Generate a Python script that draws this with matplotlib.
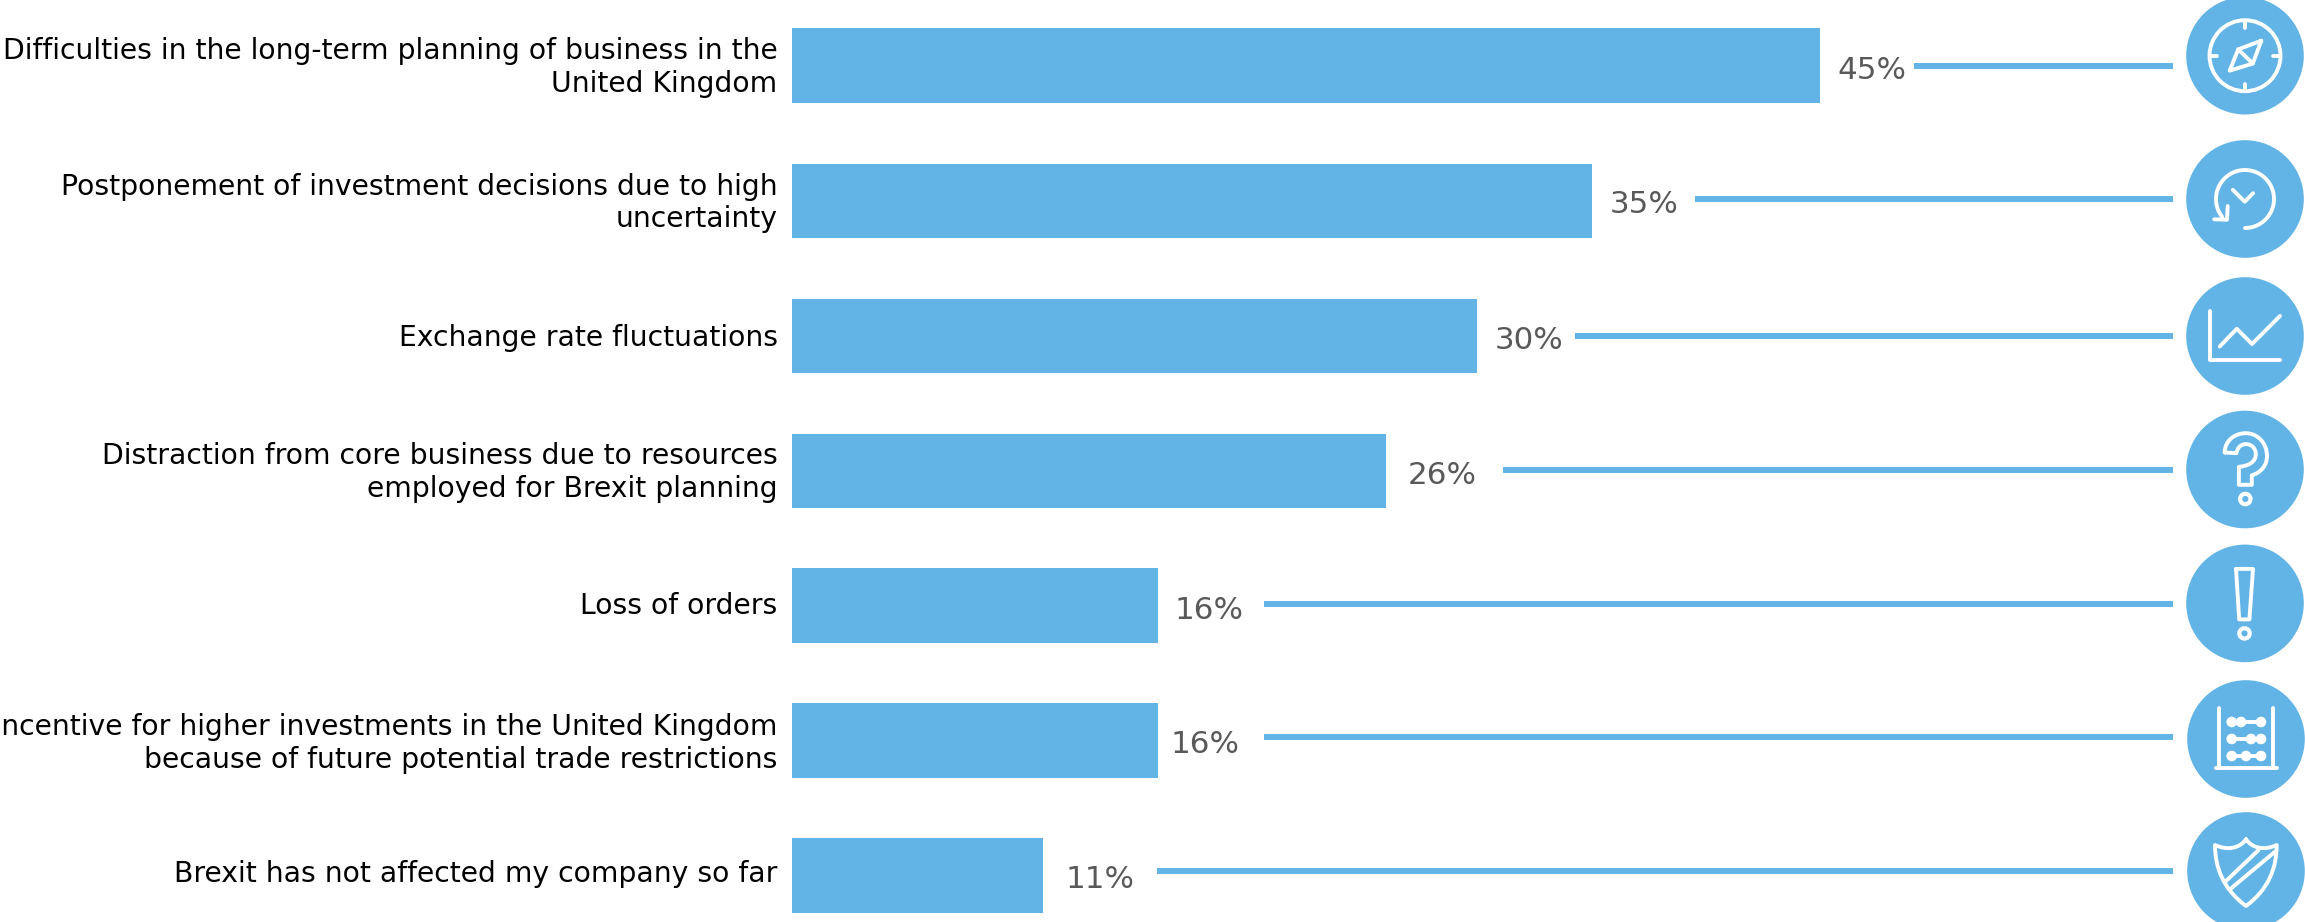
"""Horizontal bar chart of reported Brexit effects, with an icon per row."""

from __future__ import annotations

import matplotlib
import numpy as np

matplotlib.use("Agg")
import matplotlib.pyplot as plt  # noqa: E402
from matplotlib.patches import Circle, PathPatch  # noqa: E402
from matplotlib.path import Path  # noqa: E402

CATEGORIES = [
    "Difficulties in the long-term planning of business in the\nUnited Kingdom",
    "Postponement of investment decisions due to high\nuncertainty",
    "Exchange rate fluctuations",
    "Distraction from core business due to resources\nemployed for Brexit planning",
    "Loss of orders",
    "Incentive for higher investments in the United Kingdom\nbecause of future potential trade restrictions",
    "Brexit has not affected my company so far",
]
VALUES = [45, 35, 30, 26, 16, 16, 11]

# layout in pixels of the 2305x922 canvas
WIDTH = 2305
HEIGHT = 922
BAR_LEFT = 792
BAR_RIGHT = 1820
BAR_CENTERS = [65.75, 201, 336, 471, 605.5, 740.7, 875.5]
BAR_HEIGHT = 74.5
CATEGORY_RIGHT = 777.6
CATEGORY_BASELINES = [91.5, 226.9, 345.7, 496.5, 614.3, 767.5, 881.7]
VALUE_LEFTS = [1837, 1609.5, 1494.5, 1407.5, 1174.5, 1170.2, 1065.2]
VALUE_BASELINES = [79.3, 213, 349, 484, 618.7, 753, 888]
CONNECTOR_STARTS = [1914, 1695, 1575, 1503.3, 1264, 1264, 1157]
CONNECTOR_END = 2172.7
CONNECTOR_Y = [65.7, 199, 336, 470, 603.7, 737.3, 871]
ICON_X = [2245, 2245, 2245, 2245, 2245, 2246, 2246]
ICON_Y = [55.7, 199, 336, 469.5, 603.4, 739, 871]
ICON_RADIUS = 58.8

BLUE = "#63B4E6"
VALUE_COLOR = "#595959"
STROKE = 2.8
CATEGORY_SIZE = 20.3
VALUE_SIZE = 22.3


def stroke(axis, x, y, points, width=STROKE):
    """Draw a white polyline given relative to an icon center."""
    xy = np.asarray(points, dtype=float)
    axis.plot(
        x + xy[:, 0],
        y + xy[:, 1],
        color="white",
        linewidth=width,
        solid_capstyle="round",
        solid_joinstyle="round",
    )


def ring(axis, x, y, radius, width=STROKE):
    axis.add_patch(Circle((x, y), radius, fill=False, edgecolor="white", linewidth=width))


def curve(axis, x, y, vertices, codes):
    path = Path(np.asarray(vertices, dtype=float) + (x, y), codes)
    axis.add_patch(
        PathPatch(path, fill=False, edgecolor="white", linewidth=STROKE, joinstyle="round", capstyle="round")
    )


def icon_compass(axis, x, y):
    ring(axis, x, y, 35.5)
    for dx, dy in ((0, -1), (0, 1), (-1, 0), (1, 0)):
        stroke(axis, x, y, [(dx * 35, dy * 35), (dx * 28, dy * 28)])
    needle = [(16.3, -15), (-6.8, -6.3), (-15.3, 15), (7.8, 7.8), (16.3, -15)]
    stroke(axis, x, y, needle)
    stroke(axis, x, y, [(-6.8, -6.3), (7.8, 7.8)])


def icon_clock(axis, x, y):
    angles = np.radians(np.linspace(-90, 218, 80))
    stroke(axis, x, y, np.column_stack([29 * np.cos(angles), -29 * np.sin(angles)]))
    stroke(axis, x, y, [(-17.3, 7.1), (-18, 20.7), (-30.8, 20.3)])
    stroke(axis, x, y, [(-12.2, -9.2), (-0.3, 2.7), (8.1, -5.8)])


def icon_trend(axis, x, y):
    stroke(axis, x, y, [(-35, -25), (-35, 24.5), (35, 24.5)])
    stroke(axis, x, y, [(-25.3, 10.5), (-8.2, -7.2), (7, 8), (35, -20)])


def icon_question(axis, x, y):
    vertices = [
        (-20.3, -17),
        (-20.3, -28.8), (-10.2, -36.3), (0.7, -36.3),
        (13.6, -36.3), (22, -25.4), (22, -13.6),
        (22, -3.4), (15.3, 3.4), (6.8, 5.8),
        (6.8, 15.3),
        (-6.1, 15.3),
        (-6.1, -2.7),
        (3.4, -3.4), (10.8, -7.5), (10.8, -15.3),
        (10.8, -21), (6.8, -25.4), (0.7, -25.4),
        (-4, -25.4), (-7.8, -22), (-8.5, -16.3),
        (-20.3, -17),
    ]
    codes = [Path.MOVETO] + [Path.CURVE4] * 9 + [Path.LINETO] * 3 + [Path.CURVE4] * 9 + [Path.LINETO]
    curve(axis, x, y, vertices, codes)
    ring(axis, x + 0.3, y + 29.5, 5.2, width=3)


def icon_exclamation(axis, x, y):
    stroke(axis, x, y, [(-9, -34.5), (8, -34.5), (4.4, 16), (-5.8, 16), (-9, -34.5)])
    ring(axis, x - 0.5, y + 30, 5.2, width=3)


def icon_abacus(axis, x, y):
    stroke(axis, x, y, [(-26.7, -30.7), (-26.7, 29.3)])
    stroke(axis, x, y, [(26.7, -30.7), (26.7, 29.3)])
    stroke(axis, x, y, [(-30, 29.3), (30.7, 29.3)])
    rows = ((-17, -5), (0, 5), (17, 0))
    for row_y, middle in rows:
        stroke(axis, x, y, [(-14.3, row_y), (15, row_y)])
        for bead_x in (-14.3, middle, 15):
            axis.add_patch(Circle((x + bead_x, y + row_y), 5.3, color="white", linewidth=0))


def icon_shield(axis, x, y):
    vertices = [
        (0, -31.7),
        (-6, -23), (-18, -20), (-31, -26),
        (-31, -3.3), (-22.7, 18.3), (0, 35),
        (22.7, 18.3), (30.7, -3.3), (30.7, -26),
        (18, -20), (6, -23), (0, -31.7),
    ]
    codes = [Path.MOVETO] + [Path.CURVE4] * 12
    curve(axis, x, y, vertices, codes)
    stroke(axis, x, y, [(-20, 10), (12.3, -20.7)])
    stroke(axis, x, y, [(-15.3, 17.7), (29, -19.3)])


ICONS = [
    icon_compass,
    icon_clock,
    icon_trend,
    icon_question,
    icon_exclamation,
    icon_abacus,
    icon_shield,
]


def main():
    figure = plt.figure(figsize=(WIDTH / 100, HEIGHT / 100), dpi=100, facecolor="white")

    # bars live on a percent scale, the overlay works in canvas pixels
    bars = figure.add_axes([BAR_LEFT / WIDTH, 0, (BAR_RIGHT - BAR_LEFT) / WIDTH, 1])
    bars.set_xlim(0, max(VALUES))
    bars.set_ylim(HEIGHT, 0)
    bars.axis("off")
    bars.barh(BAR_CENTERS, VALUES, height=BAR_HEIGHT, color=BLUE)

    overlay = figure.add_axes([0, 0, 1, 1])
    overlay.set_xlim(0, WIDTH)
    overlay.set_ylim(HEIGHT, 0)
    overlay.axis("off")
    overlay.patch.set_alpha(0)

    for row, label in enumerate(CATEGORIES):
        overlay.text(
            CATEGORY_RIGHT,
            CATEGORY_BASELINES[row],
            label,
            ha="right",
            va="baseline",
            multialignment="right",
            fontsize=CATEGORY_SIZE,
            linespacing=1.2,
            color="black",
        )
        overlay.text(
            VALUE_LEFTS[row],
            VALUE_BASELINES[row],
            f"{VALUES[row]}%",
            ha="left",
            va="baseline",
            fontsize=VALUE_SIZE,
            color=VALUE_COLOR,
        )
        overlay.plot(
            [CONNECTOR_STARTS[row], CONNECTOR_END],
            [CONNECTOR_Y[row]] * 2,
            color=BLUE,
            linewidth=4.3,
            solid_capstyle="butt",
        )
        overlay.add_patch(Circle((ICON_X[row], ICON_Y[row]), ICON_RADIUS, color=BLUE, linewidth=0))
        ICONS[row](overlay, ICON_X[row], ICON_Y[row])

    figure.savefig("out.png", dpi=100, facecolor="white")
    plt.close(figure)


if __name__ == "__main__":
    main()
